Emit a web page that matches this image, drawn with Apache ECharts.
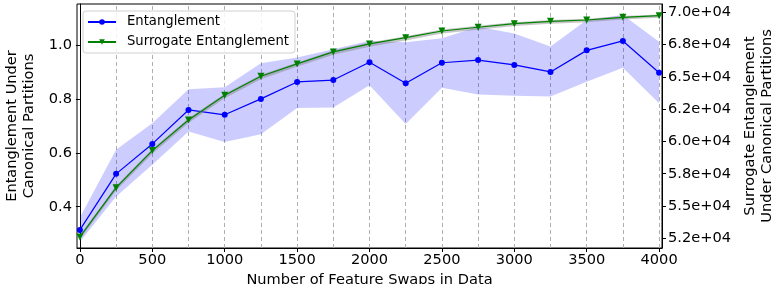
<!DOCTYPE html>
<html>
<head>
<meta charset="utf-8">
<script src="https://cdn.jsdelivr.net/npm/echarts@6/dist/echarts.min.js"></script>
<style>html,body{margin:0;padding:0;background:#fff;}#c{width:775px;height:284px;}</style>
</head>
<body>
<div id="c"></div>
<script>
const swaps = [0, 250, 500, 750, 1000, 1250, 1500, 1750, 2000, 2250, 2500, 2750, 3000, 3250, 3500, 3750, 4000];
const entanglement = [0.314, 0.522, 0.633, 0.759, 0.741, 0.800, 0.863, 0.870, 0.936, 0.858, 0.934, 0.944, 0.926, 0.900, 0.980, 1.015, 0.897];
const entUpper = [0.360, 0.611, 0.710, 0.836, 0.843, 0.932, 0.954, 0.984, 1.016, 1.010, 1.025, 1.068, 1.043, 0.994, 1.093, 1.111, 1.012];
const entLower = [0.270, 0.438, 0.556, 0.679, 0.640, 0.669, 0.766, 0.768, 0.851, 0.707, 0.841, 0.816, 0.812, 0.809, 0.864, 0.916, 0.784];
const surrogate = [52610, 56420, 59290, 61660, 63580, 65050, 66000, 66930, 67550, 68030, 68550, 68840, 69120, 69300, 69400, 69610, 69740];
const surUpper = [52730, 56560, 59420, 61790, 63700, 65170, 66120, 67050, 67660, 68140, 68660, 68950, 69230, 69400, 69500, 69710, 69830];
const surLower = [52400, 56200, 59050, 61420, 63350, 64820, 65780, 66720, 67340, 67820, 68350, 68650, 68930, 69120, 69230, 69440, 69580];
const xTicks = [0, 500, 1000, 1500, 2000, 2500, 3000, 3500, 4000];
const leftTicks = [0.4, 0.6, 0.8, 1.0];
const rightTicks = [52500, 55000, 57500, 60000, 62500, 65000, 67500, 70000];
const rightTickLabels = ['5.2e+04', '5.5e+04', '5.8e+04', '6.0e+04', '6.2e+04', '6.5e+04', '6.8e+04', '7.0e+04'];

const FONT = 'DejaVu Sans';
const chart = echarts.init(document.getElementById('c'), null, {renderer: 'canvas'});

function bandItem(lower, upper, yIdx, color) {
  return {
    type: 'custom',
    yAxisIndex: yIdx,
    silent: true,
    data: [[swaps[0], lower[0]]],
    clip: true,
    renderItem: function (params, api) {
      const pts = [];
      for (let i = 0; i < swaps.length; i++) pts.push(api.coord([swaps[i], upper[i]]));
      for (let i = swaps.length - 1; i >= 0; i--) pts.push(api.coord([swaps[i], lower[i]]));
      return {type: 'polygon', shape: {points: pts}, style: {fill: color, stroke: null}};
    },
    z: 1
  };
}

const option = {
  animation: false,
  backgroundColor: '#fff',
  textStyle: {fontFamily: FONT},
  grid: {left: 77, right: 113, top: 4, bottom: 36, show: true, borderColor: '#000', borderWidth: 1,
    backgroundColor: 'transparent', containLabel: false, outerBoundsMode: 'none'},
  legend: {
    left: 83, top: 11, orient: 'vertical',
    data: ['Entanglement', 'Surrogate Entanglement'],
    itemWidth: 28, itemHeight: 7, itemGap: 6,
    padding: [4, 6, 4, 4],
    backgroundColor: 'rgba(255,255,255,0.85)', borderColor: '#d0d0d0', borderWidth: 1, borderRadius: 3,
    textStyle: {fontFamily: FONT, fontSize: 13.2, color: '#000', lineHeight: 14, padding: [0, 0, 0, 6]}
  },
  xAxis: {
    type: 'value', min: -20, max: 4020,
    name: 'Number of Feature Swaps in Data', nameLocation: 'middle', nameGap: 20,
    nameTextStyle: {fontFamily: FONT, fontSize: 14.6, color: '#000'},
    axisLine: {lineStyle: {color: '#000', width: 1}},
    axisTick: {show: true, length: 4, lineStyle: {color: '#000'}, customValues: xTicks},
    axisLabel: {fontFamily: FONT, fontSize: 14.6, color: '#000', margin: 5, customValues: xTicks,
      formatter: v => String(v)},
    splitLine: {show: false}
  },
  yAxis: [
    {
      type: 'value', min: 0.247, max: 1.152, position: 'left',
      name: 'Entanglement Under\nCanonical Partitions', nameLocation: 'middle', nameRotate: 90, nameGap: 38,
      nameTextStyle: {fontFamily: FONT, fontSize: 14.6, color: '#000', lineHeight: 17},
      axisLine: {show: true, lineStyle: {color: '#000'}},
      axisTick: {show: true, length: 4, lineStyle: {color: '#000'}, customValues: leftTicks},
      axisLabel: {fontFamily: FONT, fontSize: 14.6, color: '#000', margin: 5, customValues: leftTicks,
        formatter: v => v.toFixed(1)},
      splitLine: {show: false}
    },
    {
      type: 'value', min: 51750, max: 70640, position: 'right',
      name: 'Surrogate Entanglement\nUnder Canonical Partitions', nameLocation: 'middle', nameRotate: 90, nameGap: 78,
      nameTextStyle: {fontFamily: FONT, fontSize: 14.6, color: '#000', lineHeight: 17},
      axisLine: {show: true, lineStyle: {color: '#000'}},
      axisTick: {show: true, length: 4, lineStyle: {color: '#000'}, customValues: rightTicks},
      axisLabel: {fontFamily: FONT, fontSize: 14.6, color: '#000', margin: 6, customValues: rightTicks,
        formatter: v => { const i = rightTicks.indexOf(v); return i >= 0 ? rightTickLabels[i] : ''; }},
      splitLine: {show: false}
    }
  ],
  series: [
    Object.assign(bandItem(entLower, entUpper, 0, 'rgba(0,0,255,0.2)'), {name: 'entBand'}),
    {
      name: 'Entanglement', type: 'line', yAxisIndex: 0,
      data: swaps.map((x, i) => [x, entanglement[i]]),
      symbol: 'circle', symbolSize: 6,
      lineStyle: {color: '#0000ff', width: 1.2},
      itemStyle: {color: '#0000ff'},
      z: 3,
      markLine: {
        silent: true, symbol: ['none', 'none'], label: {show: false},
        lineStyle: {color: '#b0b0b0', type: [4, 3], width: 1},
        data: swaps.map(x => ({xAxis: x})),
        z: 0
      }
    },
    Object.assign(bandItem(surLower, surUpper, 1, 'rgba(128,128,128,0.45)'), {name: 'surBand', z: 4}),
    {
      name: 'Surrogate Entanglement', type: 'line', yAxisIndex: 1,
      data: swaps.map((x, i) => [x, surrogate[i]]),
      symbol: 'triangle', symbolRotate: 180, symbolSize: 7,
      lineStyle: {color: '#008000', width: 1.2},
      itemStyle: {color: '#008000'},
      z: 5
    }
  ]
};
chart.setOption(option);
</script>
</body>
</html>
